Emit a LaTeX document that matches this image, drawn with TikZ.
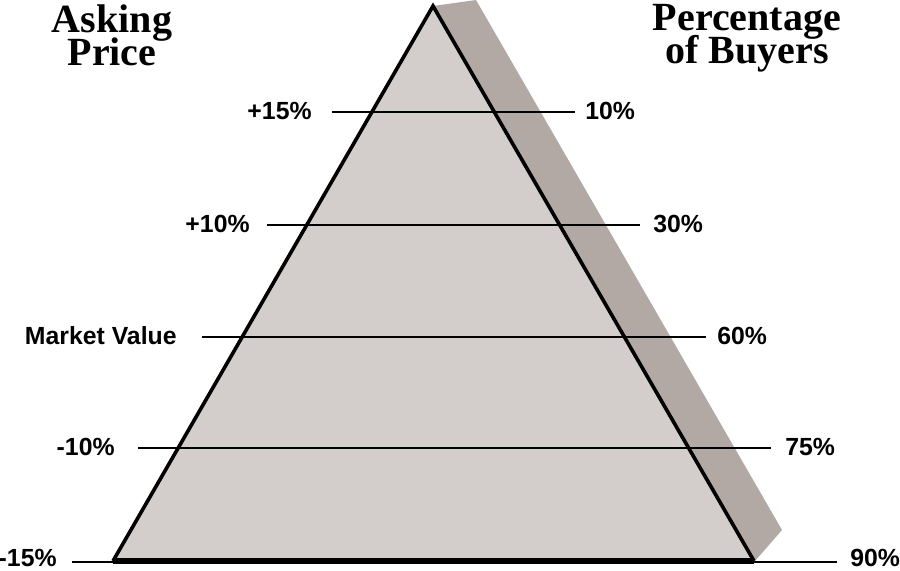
\documentclass[tikz,border=0pt]{standalone}
\usepackage{fontspec}
\setmainfont{Liberation Serif}
\setsansfont{Liberation Sans}
\usetikzlibrary{positioning}
\definecolor{pyrfill}{HTML}{D3CECC}
\definecolor{pyrshade}{HTML}{B2A8A4}
\setlength{\lineskiplimit}{-20pt}

\begin{document}
\begin{tikzpicture}[
  x=0.5pt, y=-0.5pt,
  lbl/.style={font=\sffamily\bfseries\fontsize{12.4}{14}\selectfont, inner sep=0pt},
  head/.style={font=\rmfamily\bfseries\fontsize{20}{16.5}\selectfont,
               align=center, inner sep=0pt},
  level/.style={line width=1pt},
  side/.style={line width=1.8pt, line join=miter},
  base/.style={line width=3pt}
]
\useasboundingbox (0,0) rectangle (900,570);

%% shadow face
\fill[pyrshade] (433,6) -- (476,0) -- (782,530) -- (755,561) -- cycle;

%% pyramid
\coordinate (apex) at (433,6);
\coordinate (bl) at (113,561);
\coordinate (br) at (754,561);
\fill[pyrfill] (apex) -- (bl) -- (br) -- cycle;

%% levels: price on the left, buyers on the right
\foreach \i/\y/\t/\l/\r/\lx/\rx/\lt/\rt in {
    1/112/110.5/332/575/312/585/{+15\%}/{10\%},
    2/225/223.5/267/640/250/653/{+10\%}/{30\%},
    3/337/335.5/202/706/177/717/{Market Value}/{60\%},
    4/448/446.5/138/771/115/785/{-10\%}/{75\%},
    5/562/557.5/72/837/57/850/{-15\%}/{90\%}}{
  \coordinate (l\i) at (\l,\y);
  \coordinate (r\i) at (\r,\y);
  \node[lbl, anchor=east] (price\i) at (\lx,\t) {\lt};
  \node[lbl, anchor=west] (buyers\i) at (\rx,\t) {\rt};
  \draw[level] (l\i) -- (r\i);
}

\draw[side] (bl) -- (apex) -- (br);
\draw[base] (bl) -- (br);

%% headings
\node[head, anchor=base] (ask) at (112,65) {Asking\\Price};
\node[head, anchor=base] (pct) at (747,63) {Percentage\\of Buyers};

\end{tikzpicture}
\end{document}
